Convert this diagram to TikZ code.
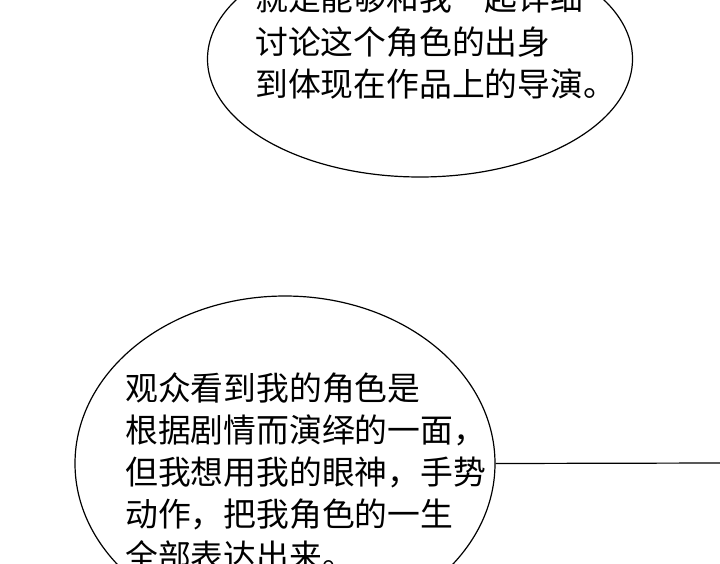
\documentclass[tikz,border=0pt]{standalone}
\usepackage{fontspec}
\newfontfamily\cjk{Noto Sans CJK SC}
\usetikzlibrary{shapes.geometric}
\tikzset{
 bubble/.style={ellipse,draw=black,line width=1.2pt,fill=white,inner sep=0pt},
 speech/.style={anchor=west,inner sep=0pt,text height=28.9pt,text depth=3.9pt,font=\cjk\fontsize{32.8pt}{32.8pt}\selectfont,text=black}
}
\begin{document}
\begin{tikzpicture}[x=1pt,y=-1pt]
\useasboundingbox (0,0) rectangle (720,563);
\fill[white] (0,0) rectangle (720,563);
\begin{scope}
\clip (0,0) rectangle (720,563);
\node[bubble,minimum width=425pt,minimum height=236pt] (top) at (420,59) {};
\node[bubble,minimum width=420pt,minimum height=335pt] (bottom) at (285,463.5) {};
\coordinate (edge) at (720,463);
\draw[black,line width=1.2pt] (bottom.east) -- (edge);
\node[speech] (t1) at (255,-2.5) {就是能够和我一起详细};
\node[speech] (t2) at (255,42) {讨论这个角色的出身};
\node[speech] (t3) at (255,84) {到体现在作品上的导演。};
\node[speech] (b1) at (125,388) {观众看到我的角色是};
\node[speech] (b2) at (125,430) {根据剧情而演绎的一面，};
\node[speech] (b3) at (125,472) {但我想用我的眼神，手势};
\node[speech] (b4) at (125,514) {动作，把我角色的一生};
\node[speech] (b5) at (125,556) {全部表达出来。};
\end{scope}
\end{tikzpicture}
\end{document}
